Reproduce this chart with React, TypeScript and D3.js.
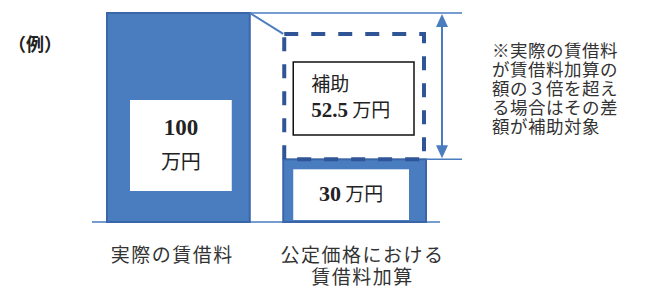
import React from 'react';
import * as d3 from 'd3';

// bars: actual rent vs. official-price rent addition (万円)
const categories = ['実際の賃借料', '公定価格における\n賃借料加算'];
const values = [100, 30];
const multiplier = 3; // subsidy starts above 3x the addition
const boxLabels = [['100', '万円'], ['30', ' 万円']];
const subsidyLabel = ['補助', '52.5', ' 万円'];
const noteLines = ['※実際の賃借料', 'が賃借料加算の', '額の３倍を超え', 'る場合はその差', '額が補助対象'];

const width = 645;
const height = 289;
const blue = '#4a7cc0';
const edge = '#3a66a8';
const dash = '#2f5597';
const jp = '"Noto Sans CJK JP", sans-serif';
const num = '"Liberation Serif", "Noto Sans CJK JP", serif';

export default function App() {
  const x = d3.scaleBand().domain(categories).range([107, 426]).paddingInner(0.19).paddingOuter(0);
  const y = d3.scaleLinear().domain([0, 100]).range([222, 13]);
  const bw = x.bandwidth();

  const x0 = x(categories[0])!;
  const x1 = x(categories[1])!;
  const top3 = y(values[1] * multiplier);
  const arrowX = 442;

  return (
    <svg width={width} height={height} style={{ position: 'absolute', left: 0, top: 0, background: '#fff' }}>
      <text x={8} y={51} fontFamily={jp} fontSize={18} fontWeight="bold" fill="#222">（例）</text>

      {/* baseline */}
      <line x1={92} x2={440} y1={y(0)} y2={y(0)} stroke={blue} strokeWidth={1.5} />

      {/* actual rent bar */}
      <rect x={x0} y={y(values[0])} width={bw} height={y(0) - y(values[0])} fill={blue} stroke={edge} strokeWidth={2} />
      <rect x={x0 + 23} y={100} width={bw - 41} height={91} fill="#fff" />
      <text x={x0 + 23 + (bw - 41) / 2} y={135} textAnchor="middle" fontFamily={num} fontWeight="bold" fontSize={23} fill="#222">{boxLabels[0][0]}</text>
      <text x={x0 + 23 + (bw - 41) / 2} y={169} textAnchor="middle" fontFamily={jp} fontSize={20} fill="#222">{boxLabels[0][1]}</text>

      {/* addition bar */}
      <rect x={x1} y={y(values[1])} width={bw} height={y(0) - y(values[1])} fill={blue} stroke={edge} strokeWidth={2} />
      <rect x={x1 + 10} y={y(values[1]) + 10} width={bw - 27} height={y(0) - y(values[1]) - 12} fill="#fff" />
      <text x={x1 + 10 + (bw - 27) / 2} y={201} textAnchor="middle" fill="#222">
        <tspan fontFamily={num} fontWeight="bold" fontSize={22}>{boxLabels[1][0]}</tspan>
        <tspan fontFamily={jp} fontSize={19}>{boxLabels[1][1]}</tspan>
      </text>

      {/* 3x dashed box */}
      <rect x={x1 + 1} y={top3} width={bw - 3} height={y(values[1]) - top3} fill="none" stroke={dash} strokeWidth={4} strokeDasharray="14 13" />

      {/* subsidy label box */}
      <rect x={x1 + 10} y={62} width={bw - 22} height={73} fill="#fff" stroke="#111" strokeWidth={1.5} />
      <text x={x1 + 28} y={91} fontFamily={jp} fontSize={19} fill="#222">{subsidyLabel[0]}</text>
      <text x={x1 + 28} y={117} fill="#222">
        <tspan fontFamily={num} fontWeight="bold" fontSize={21}>{subsidyLabel[1]}</tspan>
        <tspan fontFamily={jp} fontSize={19}>{subsidyLabel[2]}</tspan>
      </text>

      {/* guide lines and arrow */}
      <line x1={x0 + bw} x2={462} y1={y(values[0])} y2={y(values[0])} stroke={blue} strokeWidth={1.5} />
      <line x1={x0 + bw} x2={x1} y1={y(values[0])} y2={top3} stroke={blue} strokeWidth={2} />
      <line x1={x1 + bw} x2={462} y1={y(values[1])} y2={y(values[1])} stroke={blue} strokeWidth={1.5} />
      <line x1={arrowX} x2={arrowX} y1={y(values[0]) + 10} y2={y(values[1]) - 10} stroke={blue} strokeWidth={2} />
      <path d={`M${arrowX},${y(values[0]) + 1}L${arrowX - 6},${y(values[0]) + 14}L${arrowX + 6},${y(values[0]) + 14}Z`} fill={blue} />
      <path d={`M${arrowX},${y(values[1]) - 1}L${arrowX - 6},${y(values[1]) - 14}L${arrowX + 6},${y(values[1]) - 14}Z`} fill={blue} />

      {/* category labels */}
      {categories.map((c, i) =>
        c.split('\n').map((line, j) => (
          <text key={`${i}-${j}`} x={x(c)! + bw / 2 + (i === 1 ? 8 : -6)} y={262 + j * 22} textAnchor="middle" fontFamily={jp} fontSize={19} letterSpacing={1.5} fill="#333">
            {line}
          </text>
        ))
      )}

      {/* note */}
      {noteLines.map((l, i) => (
        <text key={i} x={492} y={57 + i * 19} fontFamily={jp} fontSize={17.5} letterSpacing={0.5} fill="#333">{l}</text>
      ))}
    </svg>
  );
}
